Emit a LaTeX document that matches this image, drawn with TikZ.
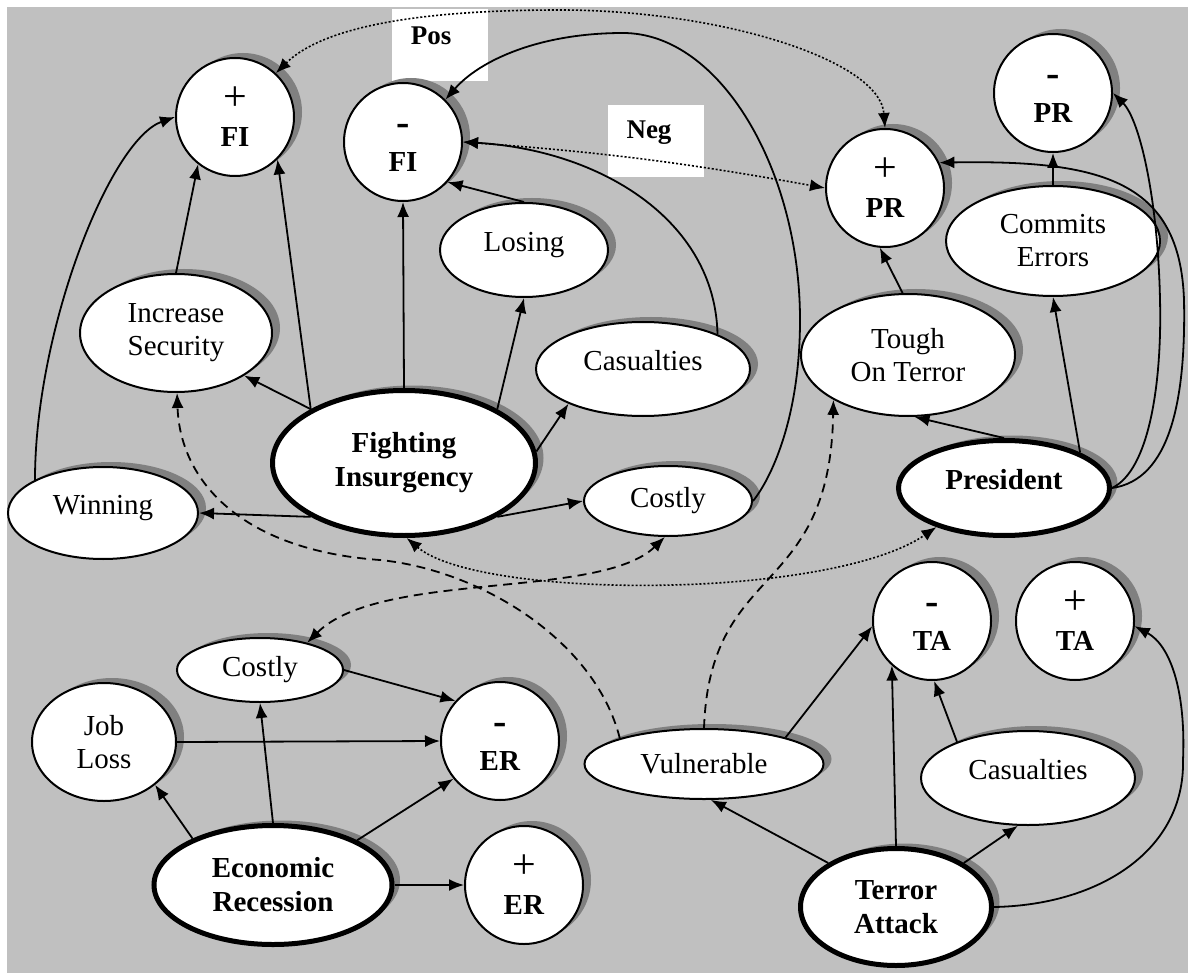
\documentclass[tikz,border=0pt]{standalone}
\usepackage{fontspec}
\setmainfont{Liberation Serif}
\usetikzlibrary{shapes.geometric,shadows,arrows.meta}
\definecolor{bg}{HTML}{C0C0C0}
\definecolor{shade}{HTML}{808080}
\begin{document}
\begin{tikzpicture}[x=1pt, y=-1pt, >={Latex[length=15pt,width=12pt]},
  every node/.style={font=\fontsize{29}{33}\selectfont},
  box/.style={fill=white, draw, line width=2pt, inner sep=0pt, align=center,
    general shadow={fill=shade, shadow xshift=8pt, shadow yshift=5pt}},
  oval/.style={box, ellipse},
  main/.style={oval, line width=5pt, font=\fontsize{29}{34}\selectfont\bfseries},
  ring/.style={box, circle, minimum size=118pt, font=\fontsize{29}{36}\selectfont},
  hi/.style={text height=20pt, text depth=17pt},
  tagbox/.style={fill=white, inner sep=0pt, minimum width=96pt, minimum height=72pt},
  tag/.style={font=\fontsize{27}{30}\selectfont\bfseries},
  link/.style={->, line width=1.8pt},
  dashlink/.style={->, line width=1.8pt, dash pattern=on 9pt off 6pt},
  dotlink/.style={<->, line width=1.6pt, dash pattern=on 2pt off 2pt}]
\def\sgnplus{{\fontsize{42}{36}\selectfont+}}
\def\sgnminus{{\fontsize{40}{36}\selectfont\bfseries-\vphantom{\mdseries+}}}
\useasboundingbox (0,0) rectangle (1188,973);
\fill[white] (0,0) rectangle (1188,973);
\fill[bg] (7,7) rectangle (1188,973);

\node[tagbox] (posbox) at (439.5,45) {};
\node[tag] (pos) at (431,36) {Pos};
\node[tagbox] (negbox) at (656,141) {};
\node[tag] (neg) at (649,133) {Neg};

\node[ring] (pfi) at (235,117) {\sgnplus\\\textbf{FI}};
\node[ring] (mfi) at (403,142) {\sgnminus\\\textbf{FI}};
\node[ring] (ppr) at (885,188) {\sgnplus\\\textbf{PR}};
\node[ring] (mpr) at (1053,93) {\sgnminus\\\textbf{PR}};
\node[ring] (mta) at (932,621) {\sgnminus\\\textbf{TA}};
\node[ring] (pta) at (1075,621) {\sgnplus\\\textbf{TA}};
\node[ring] (mer) at (500,741) {\sgnminus\\\textbf{ER}};
\node[ring] (per) at (524,885) {\sgnplus\\\textbf{ER}};

\node[oval, minimum width=192pt, minimum height=118pt] (incsec) at (176,333) {Increase\\Security};
\node[main, minimum width=263pt, minimum height=145pt] (fight) at (404,463) {Fighting\\Insurgency};
\node[oval, hi, minimum width=190pt, minimum height=92pt] (win) at (103,513) {Winning};
\node[oval, hi, minimum width=168pt, minimum height=94pt] (lose) at (524,250) {Losing};
\node[oval, hi, minimum width=214pt, minimum height=94pt] (casfi) at (643,369) {Casualties};
\node[oval, minimum width=168pt, minimum height=70pt] (costfi) at (668,501) {Costly};
\node[oval, minimum width=214pt, minimum height=122pt] (tough) at (908,355) {Tough\\On Terror};
\node[oval, minimum width=214pt, minimum height=110pt] (commit) at (1053,241) {Commits\\Errors};
\node[main, hi, minimum width=211pt, minimum height=95pt] (pres) at (1004,488) {President};
\node[oval, minimum width=239pt, minimum height=70pt] (vuln) at (704,764) {Vulnerable};
\node[oval, hi, minimum width=214pt, minimum height=94pt] (casta) at (1028,778) {Casualties};
\node[main, minimum width=191pt, minimum height=117pt] (terror) at (896,907) {Terror\\Attack};
\node[main, minimum width=238pt, minimum height=119pt] (econ) at (273,885) {Economic\\Recession};
\node[oval, minimum width=166pt, minimum height=64pt] (coster) at (260,670) {Costly};
\node[oval, minimum width=144pt, minimum height=118pt] (job) at (104,742) {Job\\Loss};

\draw[link] (fight.150) -- (pfi.-45);
\draw[link] (incsec.90) -- (pfi.-128);
\draw[link] (win.154) .. controls (35,330) and (110,140) .. (pfi.180);
\draw[link] (fight.150) -- (incsec.-32);
\draw[link] (fight.210) -- (win.0);
\draw[link] (fight.90) -- (mfi.-90);
\draw[link] (fight.30) -- (lose.-90);
\draw[link] (fight.5) -- (casfi.205);
\draw[link] (fight.-30) -- (costfi.180);
\draw[link] (lose.90) -- (mfi.-42);
\draw[link] (casfi.25) .. controls (715,220) and (600,150) .. (mfi.0);
\draw[link] (costfi.0) .. controls (770,480) and (800,420) .. (800,320)
  .. controls (800,170) and (720,33) .. (623,33) .. controls (540,33) and (480,60) .. (mfi.45);

\draw[link] (tough.95) -- (ppr.-95);
\draw[link] (pres.90) -- (tough.-84);
\draw[link] (pres.25) -- (commit.-90);
\draw[link] (commit.90) -- (mpr.-90);
\draw[link] (pres.0) .. controls (1170,480) and (1186,400) .. (1184,300)
  .. controls (1180,180) and (1100,160) .. (ppr.25);
\draw[link] (pres.0) .. controls (1150,470) and (1162,380) .. (1160,300)
  .. controls (1158,200) and (1140,120) .. (mpr.0);

\draw[link] (job.0) -- (mer.180);
\draw[link] (coster.0) -- (mer.138);
\draw[link] (econ.150) -- (job.-40);
\draw[link] (econ.90) -- (coster.-90);
\draw[link] (econ.28) -- (mer.219);
\draw[link] (econ.0) -- (per.180);

\draw[link] (terror.147) -- (vuln.-79);
\draw[link] (terror.90) -- (mta.-132);
\draw[link] (terror.33) -- (casta.-102);
\draw[link] (vuln.18) -- (mta.185);
\draw[link] (casta.153) -- (mta.-88);
\draw[link] (terror.0) .. controls (1100,905) and (1185,850) .. (1183,760)
  .. controls (1186,690) and (1170,645) .. (pta.-5);

\draw[dashlink] (vuln.163) .. controls (595,640) and (480,570) .. (380,560)
  .. controls (240,550) and (180,480) .. (incsec.-89);
\draw[dashlink] (vuln.90) .. controls (710,560) and (830,600) .. (tough.211);
\draw[dashlink, <->] (coster.30) .. controls (380,570) and (600,600) .. (costfi.-95);

\draw[dotlink] (fight.-88) .. controls (480,600) and (830,600) .. (pres.210);
\draw[dotlink] (pfi.47) .. controls (330,20) and (450,10) .. (560,10)
  .. controls (720,10) and (880,60) .. (ppr.90);
\draw[dotlink] (mfi.0) to[bend left=3] (ppr.180);
\end{tikzpicture}
\end{document}
